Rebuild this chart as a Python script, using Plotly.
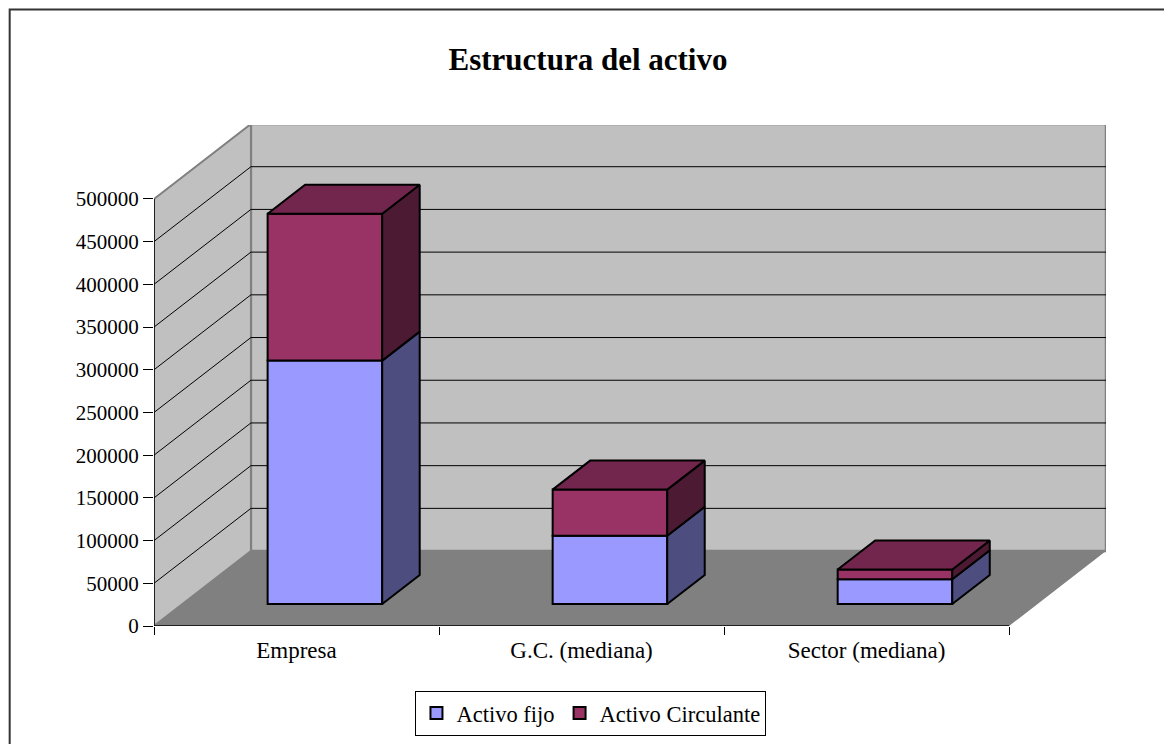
import plotly.graph_objects as go

# ---- data ----
categories = ["Empresa", "G.C. (mediana)", "Sector (mediana)"]
activo_fijo = [285000, 80000, 29000]
activo_circulante = [172000, 54000, 11500]
series_names = ["Activo fijo", "Activo Circulante"]
y_tick_values = [0, 50000, 100000, 150000, 200000, 250000, 300000, 350000, 400000, 450000, 500000]
y_tick_labels = ["0", "50000", "100000", "150000", "200000", "250000", "300000",
                 "350000", "400000", "450000", "500000"]

# ---- 3D projection style parameters ----
DX = 0.34          # depth offset in category units
DY = 87720         # depth offset in value units
F1, F2 = 0.293, 0.68   # bar front / back depth fractions
W = 0.402          # bar width (category units)
YMAX = 500000
NCAT = len(categories)

front_cols = ["#9999FF", "#993366"]
side_cols = ["#4D4D80", "#4D1A33"]
top_cols = ["#6B6BB3", "#73264D"]

FONT = "Liberation Serif, Times New Roman, serif"


def proj(x, v, d):
    return x + d * DX, v + d * DY


fig = go.Figure()
shapes = []


def path(pts):
    return "M " + " L ".join(f"{x},{y}" for x, y in pts) + " Z"


back = [proj(0, 0, 1), proj(NCAT, 0, 1), proj(NCAT, YMAX, 1), proj(0, YMAX, 1)]
left = [proj(0, 0, 0), proj(0, 0, 1), proj(0, YMAX, 1), proj(0, YMAX, 0)]
floor = [proj(0, 0, 0), proj(NCAT, 0, 0), proj(NCAT, 0, 1), proj(0, 0, 1)]
shapes.append(dict(type="path", path=path(back), fillcolor="#C0C0C0",
                   line=dict(color="#808080", width=2.5), layer="below", xref="x", yref="y"))
shapes.append(dict(type="path", path=path(left), fillcolor="#C0C0C0",
                   line=dict(color="#808080", width=2), layer="below", xref="x", yref="y"))
shapes.append(dict(type="path", path=path(floor), fillcolor="#808080",
                   line=dict(width=0), layer="below", xref="x", yref="y"))
for v in y_tick_values[1:-1]:
    x0, y0 = proj(0, v, 0)
    x1, y1 = proj(0, v, 1)
    x2, y2 = proj(NCAT, v, 1)
    shapes.append(dict(type="line", x0=x0, y0=y0, x1=x1, y1=y1, xref="x", yref="y",
                       line=dict(color="black", width=1), layer="below"))
    shapes.append(dict(type="line", x0=x1, y0=y1, x1=x2, y1=y2, xref="x", yref="y",
                       line=dict(color="black", width=1), layer="below"))
shapes.append(dict(type="line", x0=0, y0=0, x1=0, y1=YMAX, xref="x", yref="y",
                   line=dict(color="black", width=1.5), layer="above"))
shapes.append(dict(type="line", x0=0, y0=0, x1=NCAT, y1=0, xref="x", yref="y",
                   line=dict(color="black", width=1.5), layer="above"))

# outer chart border
shapes.append(dict(type="rect", xref="paper", yref="paper",
                   x0=-0.1516, x1=1.08, y0=-0.26, y1=1.2303,
                   line=dict(color="#333333", width=2), fillcolor="rgba(0,0,0,0)", layer="above"))

series = [activo_fijo, activo_circulante]
bases = [[0] * NCAT, activo_fijo]
for s, vals in enumerate(series):
    xs = [i + 0.5 + F1 * DX for i in range(NCAT)]
    fig.add_trace(go.Bar(
        x=xs, y=vals, base=[b + F1 * DY for b in bases[s]], width=W,
        name=series_names[s],
        marker=dict(color=front_cols[s], line=dict(color="black", width=2)),
        showlegend=True))

for s, vals in enumerate(series):
    for i in range(NCAT):
        b = bases[s][i]
        t = b + vals[i]
        xl = i + 0.5 - W / 2
        xr = i + 0.5 + W / 2
        side = [proj(xr, b, F1), proj(xr, t, F1), proj(xr, t, F2), proj(xr, b, F2), proj(xr, b, F1)]
        fig.add_trace(go.Scatter(x=[p[0] for p in side], y=[p[1] for p in side],
                                 mode="lines", fill="toself", fillcolor=side_cols[s],
                                 line=dict(color="black", width=2), showlegend=False,
                                 hoverinfo="skip"))
        if s == len(series) - 1:
            top = [proj(xl, t, F1), proj(xr, t, F1), proj(xr, t, F2), proj(xl, t, F2), proj(xl, t, F1)]
            fig.add_trace(go.Scatter(x=[p[0] for p in top], y=[p[1] for p in top],
                                     mode="lines", fill="toself", fillcolor=top_cols[s],
                                     line=dict(color="black", width=2), showlegend=False,
                                     hoverinfo="skip"))

fig.update_layout(
    width=1164, height=736,
    margin=dict(l=145.5, r=65.5, t=116.5, b=118, autoexpand=False),
    paper_bgcolor="white", plot_bgcolor="white",
    barmode="overlay",
    shapes=shapes,
    title=dict(text="<b>Estructura del activo</b>", x=580 / 1164, xref="container",
               y=1 - 51 / 736, yref="container", xanchor="center", yanchor="middle",
               font=dict(family=FONT, size=31, color="black")),
    legend=dict(orientation="h", x=0.459, xanchor="center", y=-0.1296, yanchor="top",
                bgcolor="white", bordercolor="black", borderwidth=1,
                font=dict(family=FONT, size=22.5, color="black"), traceorder="normal",
                tracegroupgap=0, itemwidth=30),
    xaxis=dict(range=[0, NCAT + DX], tickvals=[i + 0.5 for i in range(NCAT)],
               ticktext=categories, ticks="", showgrid=False, zeroline=False,
               showline=False, tickfont=dict(family=FONT, size=23, color="black"),
               ticklabelstandoff=8, automargin=False,
               minor=dict(tickvals=list(range(NCAT + 1)), ticks="outside", ticklen=8,
                          tickcolor="black", tickwidth=1, showgrid=False)),
    yaxis=dict(range=[0, 586550], tickvals=y_tick_values, ticktext=y_tick_labels,
               ticks="outside", ticklen=10, tickcolor="black", tickwidth=1,
               showgrid=False, zeroline=False, showline=False, automargin=False,
               tickfont=dict(family=FONT, size=21, color="black")),
    hovermode=False,
)

fig.write_html("out.html")
